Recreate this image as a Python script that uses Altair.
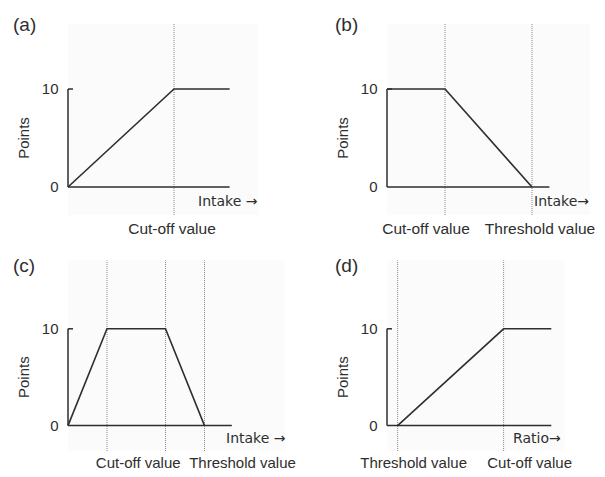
import altair as alt
import pandas as pd

FONT = "Liberation Sans"
ARROW_FONT = "DejaVu Sans"
INK = "#2e2e2e"
GUIDE = "#8a8a8a"
PANEL_BG = "#fbfbfb"

# ---------------- data ----------------
panel_labels = ["(a)", "(b)", "(c)", "(d)"]
y_tick_values = [0, 10]
y_title = "Points"
x_titles = ["Intake \u2192", "Intake\u2192", "Intake \u2192", "Ratio\u2192"]

curve_a_x = [0, 2, 3.05]
curve_a_y = [0, 10, 10]
curve_b_x = [0, 2, 5]
curve_b_y = [10, 10, 0]
curve_c_x = [0, 1, 2.5, 3.5]
curve_c_y = [0, 10, 10, 0]
curve_d_x = [0.2, 2.2, 3.1]
curve_d_y = [0, 10, 10]

axis_end = [3.05, 5.6, 4.2, 3.1]

markers_a = [2]
markers_b = [2, 5]
markers_c = [1, 2.5, 3.5]
markers_d = [0.2, 2.2]

marker_names_a = ["Cut-off value"]
marker_names_b = ["Cut-off value", "Threshold value"]
marker_names_c = ["Cut-off value", "Threshold value"]
marker_names_d = ["Threshold value", "Cut-off value"]
marker_label_at_a = [2]
marker_label_at_b = [2, 5]
marker_label_at_c = [(1 + 2.5) / 2, 3.5]
marker_label_at_d = [0.2, 2.2]

# ---------------- layout (pixels, relative to each cell) ----------------
row1 = dict(H=234, ppy=9.8, zy=179, top=16, bot=207, lab_dy=1, mdy=14, xt_dy=15, mfs=15.5)
row2 = dict(H=229, ppy=9.68, zy=183.6, top=18.4, bot=209.0, lab_dy=5.8, mdy=12.2, xt_dy=13.7, mfs=15)
layout = [
    dict(row1, W=298, ppx=53, ax=60, bg=250, xt_dx=-31.6, lab_dx=-55, mdx=[-2]),
    dict(row1, W=291, ppx=29, ax=81, bg=284, xt_dx=-15.4, lab_dx=-52, mdx=[-19, 8]),
    dict(row2, W=298, ppx=39, ax=60, bg=277, xt_dx=-5.8, lab_dx=-55, mdx=[2, 38]),
    dict(row2, W=291, ppx=53, ax=81, bg=259, xt_dx=-38.3, lab_dx=-52, mdx=[16, 26]),
]

curves = [(curve_a_x, curve_a_y), (curve_b_x, curve_b_y), (curve_c_x, curve_c_y), (curve_d_x, curve_d_y)]
markers = [markers_a, markers_b, markers_c, markers_d]
marker_names = [marker_names_a, marker_names_b, marker_names_c, marker_names_d]
marker_label_at = [marker_label_at_a, marker_label_at_b, marker_label_at_c, marker_label_at_d]


def build_panel(i):
    L = layout[i]
    H, W = L["H"], L["W"]
    xd = [-L["ax"] / L["ppx"], (W - L["ax"]) / L["ppx"]]
    yd = [-(H - L["zy"]) / L["ppy"], L["zy"] / L["ppy"]]
    y_top = (L["zy"] - L["top"]) / L["ppy"]
    y_bot = (L["zy"] - L["bot"]) / L["ppy"]
    x_bg = L["bg"] / L["ppx"] - L["ax"] / L["ppx"]
    X = lambda f: alt.X(f, type="quantitative", scale=alt.Scale(domain=xd, nice=False, zero=False), axis=None)
    Y = lambda f: alt.Y(f, type="quantitative", scale=alt.Scale(domain=yd, nice=False, zero=False), axis=None)

    bg = alt.Chart(pd.DataFrame({"x": [0], "x2": [x_bg], "y": [y_bot], "y2": [y_top]})).mark_rect(
        color=PANEL_BG
    ).encode(x=X("x"), x2="x2", y=Y("y"), y2="y2")

    vl = alt.Chart(pd.DataFrame({"x": markers[i], "y": [y_bot] * len(markers[i]), "y2": [y_top] * len(markers[i])})).mark_rule(
        color=GUIDE, strokeWidth=1, strokeDash=[1, 1]
    ).encode(x=X("x"), y=Y("y"), y2="y2")

    xaxis = alt.Chart(pd.DataFrame({"x": [0], "x2": [axis_end[i]], "y": [0]})).mark_rule(
        color=INK, strokeWidth=1.5
    ).encode(x=X("x"), x2="x2", y=Y("y"))
    yaxis = alt.Chart(pd.DataFrame({"x": [0], "y": [min(y_tick_values)], "y2": [max(y_tick_values)]})).mark_rule(
        color=INK, strokeWidth=1.5
    ).encode(x=X("x"), y=Y("y"), y2="y2")
    tick = alt.Chart(pd.DataFrame({"x": [0], "x2": [5 / L["ppx"]], "y": [max(y_tick_values)]})).mark_rule(
        color=INK, strokeWidth=1.5
    ).encode(x=X("x"), x2="x2", y=Y("y"))

    cx, cy = curves[i]
    curve = alt.Chart(pd.DataFrame({"x": cx, "y": cy, "o": list(range(len(cx)))})).mark_line(
        color=INK, strokeWidth=1.6
    ).encode(x=X("x"), y=Y("y"), order="o:Q")

    ticklab = alt.Chart(pd.DataFrame({"x": [0] * len(y_tick_values), "y": y_tick_values, "t": [str(v) for v in y_tick_values]})).mark_text(
        align="right", baseline="middle", dx=-9.5, font=FONT, fontSize=15, color=INK
    ).encode(x=X("x"), y=Y("y"), text="t:N")

    ytitle = alt.Chart(pd.DataFrame({"x": [0], "y": [sum(y_tick_values) / 2], "t": [y_title]})).mark_text(
        align="center", baseline="middle", angle=270, dy=-44, font=FONT, fontSize=15, color=INK
    ).encode(x=X("x"), y=Y("y"), text="t:N")

    xtitle = alt.Chart(pd.DataFrame({"x": [axis_end[i]], "y": [0], "t": [x_titles[i]]})).mark_text(
        align="left", baseline="middle", dx=L["xt_dx"], dy=L["xt_dy"], font=ARROW_FONT, fontSize=14, color=INK
    ).encode(x=X("x"), y=Y("y"), text="t:N")

    lab = alt.Chart(pd.DataFrame({"x": [0], "y": [y_top], "t": [panel_labels[i]]})).mark_text(
        align="left", baseline="middle", dx=L["lab_dx"], dy=L["lab_dy"], font=FONT, fontSize=19, color=INK
    ).encode(x=X("x"), y=Y("y"), text="t:N")

    mlabels = []
    for k, (name, at) in enumerate(zip(marker_names[i], marker_label_at[i])):
        mlabels.append(
            alt.Chart(pd.DataFrame({"x": [at], "y": [y_bot], "t": [name]})).mark_text(
                align="center", baseline="middle", dx=L["mdx"][k], dy=L["mdy"], font=FONT, fontSize=L["mfs"], color=INK
            ).encode(x=X("x"), y=Y("y"), text="t:N")
        )

    return alt.layer(bg, vl, xaxis, yaxis, tick, curve, ticklab, ytitle, xtitle, lab, *mlabels).properties(
        width=W, height=H
    )


chart = alt.concat(*[build_panel(i) for i in range(4)], columns=2, spacing=0).properties(
    padding=0
).configure(background="white", view=alt.ViewConfig(stroke=None))

chart.save("out.html", embed_options={"renderer": "svg", "actions": False})
